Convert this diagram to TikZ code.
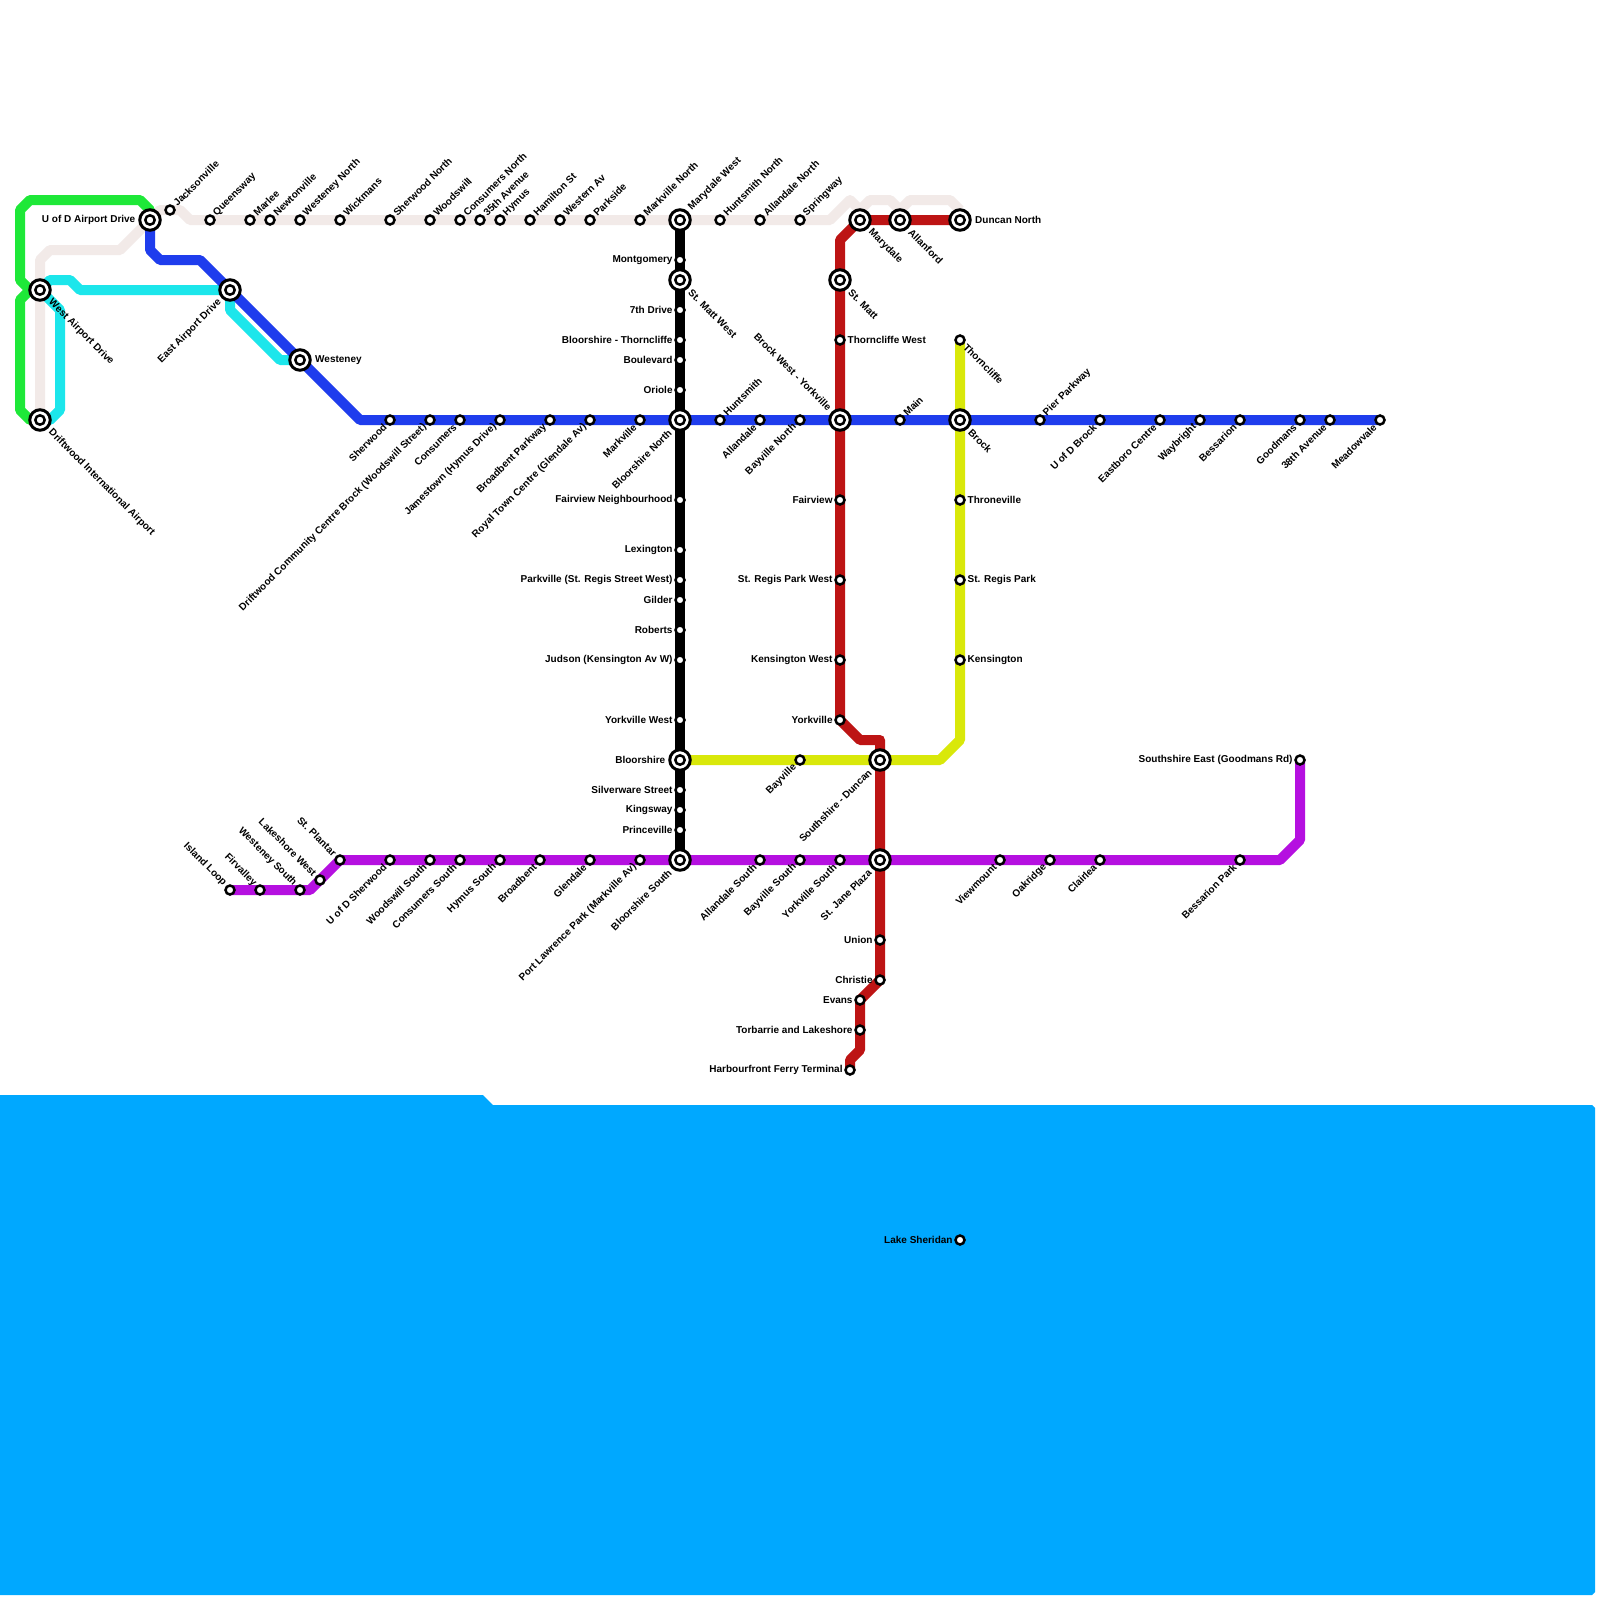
\documentclass[tikz,border=0pt]{standalone}
\usepackage{fontspec}
\setmainfont{Liberation Sans}
\pgfdeclarelayer{lines}
\pgfsetlayers{lines,main}
\definecolor{water}{HTML}{00A8FF}
\definecolor{cbeige}{HTML}{F2EAE8}
\definecolor{cgreen}{HTML}{1EE838}
\definecolor{ccyan}{HTML}{1CE6EB}
\definecolor{cblue}{HTML}{1F3DED}
\definecolor{cred}{HTML}{BD1414}
\definecolor{cyell}{HTML}{D9E80A}
\definecolor{cpurp}{HTML}{B510E0}
\tikzset{
  smallst/.style={circle,draw=black,fill=white,line width=2.5pt,minimum size=9pt,inner sep=0pt,outer sep=0pt},
  bigst/.style={circle,draw=black,fill=white,line width=3pt,minimum size=20.5pt,inner sep=0pt,outer sep=0pt,
    path picture={\draw[black,line width=2.5pt] (path picture bounding box.center) circle (4.7pt);}},
  route/.style={line width=10pt,line join=round},
  lab/.style={inner sep=0pt,font=\fontsize{10}{12}\selectfont\bfseries,text=black},
  dirNE/.style={anchor=west,rotate=45},
  dirSE/.style={anchor=west,rotate=-45},
  dirSW/.style={anchor=east,rotate=45},
  dirNW/.style={anchor=east,rotate=-45},
  dirR/.style={anchor=west},
  dirL/.style={anchor=east},
}
\def\dxNE{1.0}\def\dyNE{-1.1}
\def\dxSE{1.0}\def\dySE{1.1}
\def\dxSW{-1.0}\def\dySW{1.1}
\def\dxNW{-1.0}\def\dyNW{-1.1}
\def\dxR{1.5}\def\dyR{0}
\def\dxL{-1.45}\def\dyL{0}
\newcommand\sm[5]{\node[smallst] (#1) at (#2,#3) {};
  \node[lab,dir#4] (#1t) at ([shift={({\csname dx#4\endcsname*5},{\csname dy#4\endcsname*5})}]#1.center) {#5};}
\newcommand\ic[5]{\node[bigst] (#1) at (#2,#3) {};
  \node[lab,dir#4] (#1t) at ([shift={({\csname dx#4\endcsname*10},{\csname dy#4\endcsname*10})}]#1.center) {#5};}
\begin{document}
\begin{tikzpicture}[x=1pt,y=-1pt]
\useasboundingbox (0,0) rectangle (1600,1600);
% interchanges
\ic{uod}{150}{220}{L}{U of D Airport Drive}
\ic{wad}{40}{290}{SE}{West Airport Drive}
\ic{dia}{40}{420}{SE}{Driftwood International Airport}
\ic{ead}{230}{290}{SW}{East Airport Drive}
\ic{wst}{300}{360}{R}{Westeney}
\ic{mdw}{680}{220}{NE}{Marydale West}
\ic{smw}{680}{280}{SE}{St. Matt West}
\ic{bln}{680}{420}{SW}{Bloorshire North}
\ic{blo}{680}{760}{L}{Bloorshire}
\ic{bls}{680}{860}{SW}{Bloorshire South}
\ic{mry}{860}{220}{SE}{Marydale}
\ic{all}{900}{220}{SE}{Allanford}
\ic{dun}{960}{220}{R}{Duncan North}
\ic{smt}{840}{280}{SE}{St. Matt}
\ic{bwy}{840}{420}{NW}{Brock West - Yorkville}
\ic{brk}{960}{420}{SE}{Brock}
\ic{sdu}{880}{760}{SW}{Southshire - Duncan}
\ic{sjp}{880}{860}{SW}{St. Jane Plaza}
% top row
\sm{jac}{170}{210}{NE}{Jacksonville}
\sm{que}{210}{220}{NE}{Queensway}
\sm{mar}{250}{220}{NE}{Marlee}
\sm{new}{270}{220}{NE}{Newtonville}
\sm{wen}{300}{220}{NE}{Westeney North}
\sm{wic}{340}{220}{NE}{Wickmans}
\sm{shn}{390}{220}{NE}{Sherwood North}
\sm{woo}{430}{220}{NE}{Woodswill}
\sm{con}{460}{220}{NE}{Consumers North}
\sm{ave}{480}{220}{NE}{35th Avenue}
\sm{hym}{500}{220}{NE}{Hymus}
\sm{ham}{530}{220}{NE}{Hamilton St}
\sm{wea}{560}{220}{NE}{Western Av}
\sm{par}{590}{220}{NE}{Parkside}
\sm{mkn}{640}{220}{NE}{Markville North}
\sm{hun}{720}{220}{NE}{Huntsmith North}
\sm{aln}{760}{220}{NE}{Allandale North}
\sm{spr}{800}{220}{NE}{Springway}
% black line
\sm{mon}{680}{260}{L}{Montgomery}
\sm{sev}{680}{310}{L}{7th Drive}
\sm{bth}{680}{340}{L}{Bloorshire - Thorncliffe}
\sm{bou}{680}{360}{L}{Boulevard}
\sm{ori}{680}{390}{L}{Oriole}
\sm{fan}{680}{500}{L}{Fairview Neighbourhood}
\sm{lex}{680}{550}{L}{Lexington}
\sm{pkv}{680}{580}{L}{Parkville (St. Regis Street West)}
\sm{gil}{680}{600}{L}{Gilder}
\sm{rob}{680}{630}{L}{Roberts}
\sm{jud}{680}{660}{L}{Judson (Kensington Av W)}
\sm{ywe}{680}{720}{L}{Yorkville West}
\sm{sil}{680}{790}{L}{Silverware Street}
\sm{kin}{680}{810}{L}{Kingsway}
\sm{pri}{680}{830}{L}{Princeville}
% blue line
\sm{she}{390}{420}{SW}{Sherwood}
\sm{dcc}{430}{420}{SW}{Driftwood Community Centre Brock (Woodswill Street)}
\sm{cns}{460}{420}{SW}{Consumers}
\sm{jam}{500}{420}{SW}{Jamestown (Hymus Drive)}
\sm{bpk}{550}{420}{SW}{Broadbent Parkway}
\sm{rtc}{590}{420}{SW}{Royal Town Centre (Glendale Av)}
\sm{mkv}{640}{420}{SW}{Markville}
\sm{hus}{720}{420}{NE}{Huntsmith}
\sm{ald}{760}{420}{SW}{Allandale}
\sm{byn}{800}{420}{SW}{Bayville North}
\sm{mai}{900}{420}{NE}{Main}
\sm{pie}{1040}{420}{NE}{Pier Parkway}
\sm{ubr}{1100}{420}{SW}{U of D Brock}
\sm{eas}{1160}{420}{SW}{Eastboro Centre}
\sm{way}{1200}{420}{SW}{Waybright}
\sm{bes}{1240}{420}{SW}{Bessarion}
\sm{goo}{1300}{420}{SW}{Goodmans}
\sm{tav}{1330}{420}{SW}{38th Avenue}
\sm{mea}{1380}{420}{SW}{Meadowvale}
% red line
\sm{thw}{840}{340}{R}{Thorncliffe West}
\sm{fai}{840}{500}{L}{Fairview}
\sm{srw}{840}{580}{L}{St. Regis Park West}
\sm{kew}{840}{660}{L}{Kensington West}
\sm{yor}{840}{720}{L}{Yorkville}
\sm{uni}{880}{940}{L}{Union}
\sm{chr}{880}{980}{L}{Christie}
\sm{eva}{860}{1000}{L}{Evans}
\sm{tor}{860}{1030}{L}{Torbarrie and Lakeshore}
\sm{hft}{850}{1070}{L}{Harbourfront Ferry Terminal}
% yellow line
\sm{thc}{960}{340}{SE}{Thorncliffe}
\sm{thr}{960}{500}{R}{Throneville}
\sm{srp}{960}{580}{R}{St. Regis Park}
\sm{ken}{960}{660}{R}{Kensington}
\sm{bay}{800}{760}{SW}{Bayville}
% purple line
\sm{isl}{230}{890}{NW}{Island Loop}
\sm{fir}{260}{890}{NW}{Firvalley}
\sm{wso}{300}{890}{NW}{Westeney South}
\sm{lsw}{320}{880}{NW}{Lakeshore West}
\sm{stp}{340}{860}{NW}{St. Plantar}
\sm{ush}{390}{860}{SW}{U of D Sherwood}
\sm{wos}{430}{860}{SW}{Woodswill South}
\sm{cos}{460}{860}{SW}{Consumers South}
\sm{hys}{500}{860}{SW}{Hymus South}
\sm{bro}{540}{860}{SW}{Broadbent}
\sm{gle}{590}{860}{SW}{Glendale}
\sm{plp}{640}{860}{SW}{Port Lawrence Park (Markville Av)}
\sm{als}{760}{860}{SW}{Allandale South}
\sm{bys}{800}{860}{SW}{Bayville South}
\sm{yos}{840}{860}{SW}{Yorkville South}
\sm{vie}{1000}{860}{SW}{Viewmount}
\sm{oak}{1050}{860}{SW}{Oakridge}
\sm{cla}{1100}{860}{SW}{Clairlea}
\sm{bep}{1240}{860}{SW}{Bessarion Park}
\sm{see}{1300}{760}{L}{Southshire East (Goodmans Rd)}
\sm{lak}{960}{1240}{L}{Lake Sheridan}
% bends
\coordinate (b1) at (120,250); \coordinate (b2) at (50,250); \coordinate (b3) at (40,260);
\coordinate (b4) at (160,210); \coordinate (b5) at (180,210); \coordinate (b6) at (190,220);
\coordinate (b7) at (830,220); \coordinate (b8) at (850,200); \coordinate (b9) at (870,200);
\coordinate (b10) at (890,200); \coordinate (b11) at (910,200); \coordinate (b12) at (950,200);
\coordinate (b13) at (860,210); \coordinate (b14) at (900,210); \coordinate (b15) at (960,210);
\coordinate (g1) at (30,420); \coordinate (g2) at (20,410); \coordinate (g3) at (20,300);
\coordinate (g4) at (30,290); \coordinate (g5) at (20,280); \coordinate (g6) at (20,210);
\coordinate (g7) at (30,200); \coordinate (g8) at (140,200); \coordinate (g9) at (150,210);
\coordinate (c1) at (50,420); \coordinate (c2) at (60,410); \coordinate (c3) at (60,310);
\coordinate (c4) at (50,280); \coordinate (c5) at (70,280); \coordinate (c6) at (80,290);
\coordinate (c7) at (230,310); \coordinate (c8) at (280,360);
\coordinate (u1) at (150,250); \coordinate (u2) at (160,260); \coordinate (u3) at (200,260);
\coordinate (u4) at (360,420);
\coordinate (r1) at (840,240); \coordinate (r2) at (860,740); \coordinate (r3) at (880,740);
\coordinate (r4) at (860,1050); \coordinate (r5) at (850,1060);
\coordinate (y1) at (960,740); \coordinate (y2) at (940,760);
\coordinate (p1) at (310,890); \coordinate (p2) at (1280,860); \coordinate (p3) at (1300,840);
\begin{pgfonlayer}{lines}
\fill[white] (0,0) rectangle (1600,1600);
\fill[water] (0,1095) -- (483,1095) -- (493,1105) -- (1592,1105) -- (1595,1108) -- (1595,1592) -- (1592,1595) -- (0,1595) -- cycle;
\draw[route,cbeige] (dia.center) -- (b3) -- (b2) -- (b1) -- (uod.center) -- (b4) -- (b5) -- (b6) -- (b7) -- (b8) -- (b13) -- (b9) -- (b10) -- (b14) -- (b11) -- (b12) -- (b15);
\draw[route,cgreen] (dia.center) -- (g1) -- (g2) -- (g3) -- (g4) -- (wad.center) -- (g4) -- (g5) -- (g6) -- (g7) -- (g8) -- (g9) -- (uod.center);
\draw[route,ccyan] (dia.center) -- (c1) -- (c2) -- (c3) -- (wad.center) -- (c4) -- (c5) -- (c6) -- (ead.center) -- (c7) -- (c8) -- (wst.center);
\draw[route,cblue] (uod.center) -- (u1) -- (u2) -- (u3) -- (ead.center) -- (wst.center) -- (u4) -- (mea.center);
\draw[route,black] (mdw.center) -- (bls.center);
\draw[route,cyell] (thc.center) -- (y1) -- (y2) -- (blo.center);
\draw[route,cpurp] (isl.center) -- (p1) -- (stp.center) -- (p2) -- (p3) -- (see.center);
\draw[route,cred] (dun.center) -- (mry.center) -- (r1) -- (yor.center) -- (r2) -- (r3) -- (chr.center) -- (eva.center) -- (r4) -- (r5) -- (hft.center);
\end{pgfonlayer}
\end{tikzpicture}
\end{document}
